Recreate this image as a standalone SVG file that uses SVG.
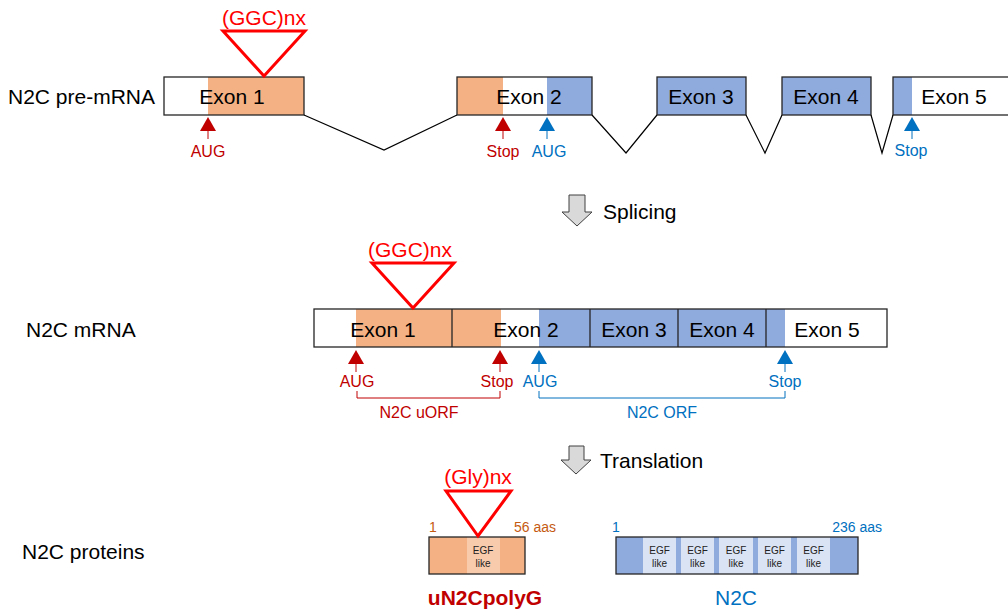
<svg xmlns="http://www.w3.org/2000/svg" width="1008" height="610" viewBox="0 0 1008 610">
<style>
text{font-family:"Liberation Sans",Arial,sans-serif}
.lbl{font-size:21px;fill:#000}
.ex{font-size:21px;fill:#000;text-anchor:middle}
.box{stroke:#262626;stroke-width:1.3}
.or{fill:#F4B183}.bl{fill:#8FAADC}.wh{fill:#fff}
.tri{fill:none;stroke:#FF0000;stroke-width:3}
.rep{font-size:21px;fill:#FF0000;text-anchor:middle}
.rd{fill:#C00000;font-size:16px;text-anchor:middle}
.bu{fill:#0070C0;font-size:16px;text-anchor:middle}
.intr{fill:none;stroke:#000;stroke-width:1.2}
.brR{fill:none;stroke:#C00000;stroke-width:1}
.brB{fill:none;stroke:#0070C0;stroke-width:1}
.egf{font-size:10px;fill:#222;text-anchor:middle}
.bigarrow{fill:#D9D9D9;stroke:#404040;stroke-width:1}
</style>
<defs>
<g id="upR"><polygon points="-8,14 8,14 0,0" fill="#C00000"/><line x1="0" y1="14" x2="0" y2="22" stroke="#C00000" stroke-width="1"/></g>
<g id="upB"><polygon points="-8,14 8,14 0,0" fill="#0070C0"/><line x1="0" y1="14" x2="0" y2="22" stroke="#0070C0" stroke-width="1"/></g>
</defs>

<!-- Row labels -->
<text class="lbl" x="8" y="104">N2C pre-mRNA</text>
<text class="lbl" x="26" y="337">N2C mRNA</text>
<text class="lbl" x="22" y="559">N2C proteins</text>

<!-- pre-mRNA -->
<g id="pre-exon1">
<rect x="164" y="77" width="44" height="38" class="wh"/>
<rect x="208" y="77" width="96" height="38" class="or"/>
<rect x="164" y="77" width="140" height="38" class="box" fill="none"/>
<text class="ex" x="232" y="104">Exon 1</text>
</g>
<g id="pre-repeat">
<polygon points="223,31 305,31 264,76" class="tri"/>
<text class="rep" x="264" y="25">(GGC)nx</text>
</g>
<g id="pre-exon2">
<rect x="457" y="77" width="46" height="38" class="or"/>
<rect x="503" y="77" width="44" height="38" class="wh"/>
<rect x="547" y="77" width="45" height="38" class="bl"/>
<rect x="457" y="77" width="135" height="38" class="box" fill="none"/>
<text class="ex" x="529" y="104">Exon 2</text>
</g>
<g id="pre-exon3">
<rect x="657" y="77" width="89" height="38" class="bl box"/>
<text class="ex" x="701" y="104">Exon 3</text>
</g>
<g id="pre-exon4">
<rect x="782" y="77" width="89" height="38" class="bl box"/>
<text class="ex" x="826" y="104">Exon 4</text>
</g>
<g id="pre-exon5">
<rect x="893" y="77" width="19" height="38" class="bl"/>
<rect x="912" y="77" width="100" height="38" class="wh"/>
<rect x="893" y="77" width="120" height="38" class="box" fill="none"/>
<text class="ex" x="954" y="104">Exon 5</text>
</g>
<g id="pre-markers">
<use href="#upR" x="208" y="117"/><text class="rd" x="208" y="157">AUG</text>
<use href="#upR" x="503" y="117"/><text class="rd" x="503" y="157">Stop</text>
<use href="#upB" x="547" y="117"/><text class="bu" x="549" y="157">AUG</text>
<use href="#upB" x="912" y="117"/><text class="bu" x="911" y="156">Stop</text>
</g>
<g id="connectors">
<polyline class="intr" points="304,115 384,150 457,115"/>
<polyline class="intr" points="592,115 626,153 657,115"/>
<polyline class="intr" points="746,115 765,153 782,115"/>
<polyline class="intr" points="871,115 882,153 893,115"/>
</g>

<!-- Splicing arrow -->
<g id="splicing">
<polygon class="bigarrow" points="569,195 585,195 585,212 592,212 577,226 562,212 569,212"/>
<text class="lbl" x="603" y="219">Splicing</text>
</g>

<!-- mRNA -->
<g id="mrna">
<rect x="314" y="309" width="42" height="38" class="wh"/>
<rect x="356" y="309" width="145" height="38" class="or"/>
<rect x="501" y="309" width="38" height="38" class="wh"/>
<rect x="539" y="309" width="246" height="38" class="bl"/>
<rect x="785" y="309" width="102" height="38" class="wh"/>
<rect x="314" y="309" width="573" height="38" class="box" fill="none"/>
<line x1="452" y1="309" x2="452" y2="347" class="box"/>
<line x1="590" y1="309" x2="590" y2="347" class="box"/>
<line x1="678" y1="309" x2="678" y2="347" class="box"/>
<line x1="766" y1="309" x2="766" y2="347" class="box"/>
<text class="ex" x="383" y="337">Exon 1</text>
<text class="ex" x="526" y="337">Exon 2</text>
<text class="ex" x="634" y="337">Exon 3</text>
<text class="ex" x="722" y="337">Exon 4</text>
<text class="ex" x="827" y="337">Exon 5</text>
</g>
<g id="mrna-repeat">
<polygon points="372,263 454,263 413,308" class="tri"/>
<text class="rep" x="410" y="257">(GGC)nx</text>
</g>
<g id="mrna-markers">
<use href="#upR" x="356" y="350"/><text class="rd" x="357" y="387">AUG</text>
<use href="#upR" x="500" y="350"/><text class="rd" x="497" y="387">Stop</text>
<use href="#upB" x="539" y="350"/><text class="bu" x="540" y="387">AUG</text>
<use href="#upB" x="785" y="350"/><text class="bu" x="785" y="387">Stop</text>
<polyline class="brR" points="357,391 357,398 500,398 500,391"/>
<text class="rd" x="419" y="418">N2C uORF</text>
<polyline class="brB" points="539,391 539,398 785,398 785,391"/>
<text class="bu" x="662" y="418">N2C ORF</text>
</g>

<!-- Translation arrow -->
<g id="translation">
<polygon class="bigarrow" points="569,446 584,446 584,460 591,460 576,474 561,460 569,460"/>
<text class="lbl" x="600" y="468">Translation</text>
</g>

<!-- uN2CpolyG -->
<g id="un2cpolyg">
<rect x="429" y="537" width="96" height="37" class="or"/>
<rect x="467" y="537" width="33" height="37" fill="#F8CBAD"/>
<rect x="429" y="537" width="96" height="37" class="box" fill="none"/>
<text class="egf" x="483" y="554">EGF</text>
<text class="egf" x="483" y="567" font-size="10.5">like</text>
<text x="429" y="532" font-size="14" fill="#C55A11">1</text>
<text x="556" y="532" font-size="14" fill="#C55A11" text-anchor="end">56 aas</text>
<polygon points="446,491 511,491 478,536" class="tri"/>
<text class="rep" x="478" y="484">(Gly)nx</text>
<text x="485" y="605" font-size="21" font-weight="bold" fill="#C00000" text-anchor="middle">uN2CpolyG</text>
</g>

<!-- N2C protein -->
<g id="n2c">
<rect x="616" y="537" width="242" height="37" class="bl"/>
<rect x="643" y="537" width="33" height="37" fill="#DAE3F3"/>
<rect x="681" y="537" width="33" height="37" fill="#DAE3F3"/>
<rect x="719" y="537" width="34" height="37" fill="#DAE3F3"/>
<rect x="758" y="537" width="33" height="37" fill="#DAE3F3"/>
<rect x="797" y="537" width="33" height="37" fill="#DAE3F3"/>
<rect x="616" y="537" width="242" height="37" class="box" fill="none"/>
<text class="egf" x="659.5" y="554">EGF</text><text class="egf" x="659.5" y="567">like</text>
<text class="egf" x="697.5" y="554">EGF</text><text class="egf" x="697.5" y="567">like</text>
<text class="egf" x="736" y="554">EGF</text><text class="egf" x="736" y="567">like</text>
<text class="egf" x="774.5" y="554">EGF</text><text class="egf" x="774.5" y="567">like</text>
<text class="egf" x="813.5" y="554">EGF</text><text class="egf" x="813.5" y="567">like</text>
<text x="612" y="532" font-size="14" fill="#0070C0">1</text>
<text x="882" y="532" font-size="14" fill="#0070C0" text-anchor="end">236 aas</text>
<text x="736" y="605" font-size="21" fill="#0070C0" text-anchor="middle">N2C</text>
</g>
</svg>
